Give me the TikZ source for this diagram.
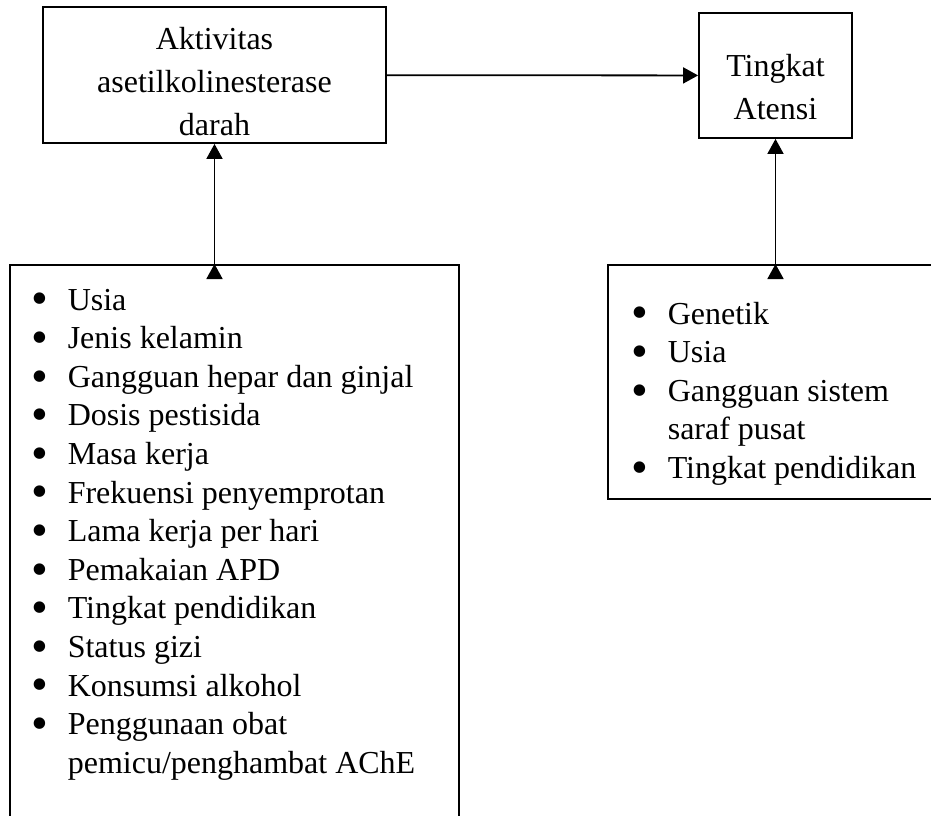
\documentclass[tikz,border=0pt]{standalone}
\usepackage{fontspec}
\usepackage{graphicx}
\setmainfont{Liberation Serif}
\usetikzlibrary{arrows.meta}
\newcommand{\titik}{\smash{\raisebox{-2.4pt}{\scalebox{1.5}{\textbullet}}}}
\newcommand{\butir}[1]{\hangindent=18pt\hangafter=1\noindent\makebox[18pt][l]{\titik}#1\par}

\begin{document}
\begin{tikzpicture}[x=0.5pt, y=-0.5pt,
        kotak/.style={draw, line width=0.9pt, inner sep=0pt},
        judul/.style={font=\fontsize{16}{21.5}\selectfont, align=center, inner sep=0pt},
        daftar/.style={font=\fontsize{16}{19.3}\selectfont, text width=#1, inner sep=0pt, anchor=base west, align=flush left},
        panah/.style={line width=0.9pt, -{Triangle[length=7.5pt, width=8pt]}}]
            \clip (0, 0) rectangle (931, 815);
            \node[kotak, minimum width=171.5pt, minimum height=68pt] (akt) at (214.5, 75) {};
            \node[kotak, minimum width=76.5pt, minimum height=62.5pt] (atensi) at (775.5, 75.5) {};
            \node[kotak, anchor=north west, minimum width=224.5pt, minimum height=300pt] (faktorA) at (9, 264) {};
            \node[kotak, anchor=north west, minimum width=170pt, minimum height=117pt] (faktorB) at (607, 264) {};

            \node[judul] (aktteks) at ([yshift=-3.5pt]akt.center) {Aktivitas\\asetilkolinesterase\\darah};
            \node[judul] (atensiteks) at ([yshift=-6pt]atensi.center) {Tingkat\\Atensi};
            \node[daftar=205pt] (isiA) at ([shift={(11.2pt, -23pt)}]faktorA.north west) {\butir{Usia}\butir{Jenis kelamin}\butir{Gangguan hepar dan ginjal}\butir{Dosis pestisida}\butir{Masa kerja}\butir{Frekuensi penyemprotan}\butir{Lama kerja per hari}\butir{Pemakaian APD}\butir{Tingkat pendidikan}\butir{Status gizi}\butir{Konsumsi alkohol}\butir{Penggunaan obat\newline pemicu/penghambat AChE}};
            \node[daftar=150pt] (isiB) at ([shift={(12.2pt, -30pt)}]faktorB.north west) {\butir{Genetik}\butir{Usia}\butir{Gangguan sistem\newline saraf pusat}\butir{Tingkat pendidikan}};

            \coordinate (kakiA) at (akt.south |- faktorA.north);
            \coordinate (kakiB) at (atensi.south |- faktorB.north);
            \draw[panah] (akt) edge (atensi);
            \draw[panah] (kakiA) edge (akt);
            \draw[panah] (kakiB) edge (atensi);
        \end{tikzpicture}
\end{document}
